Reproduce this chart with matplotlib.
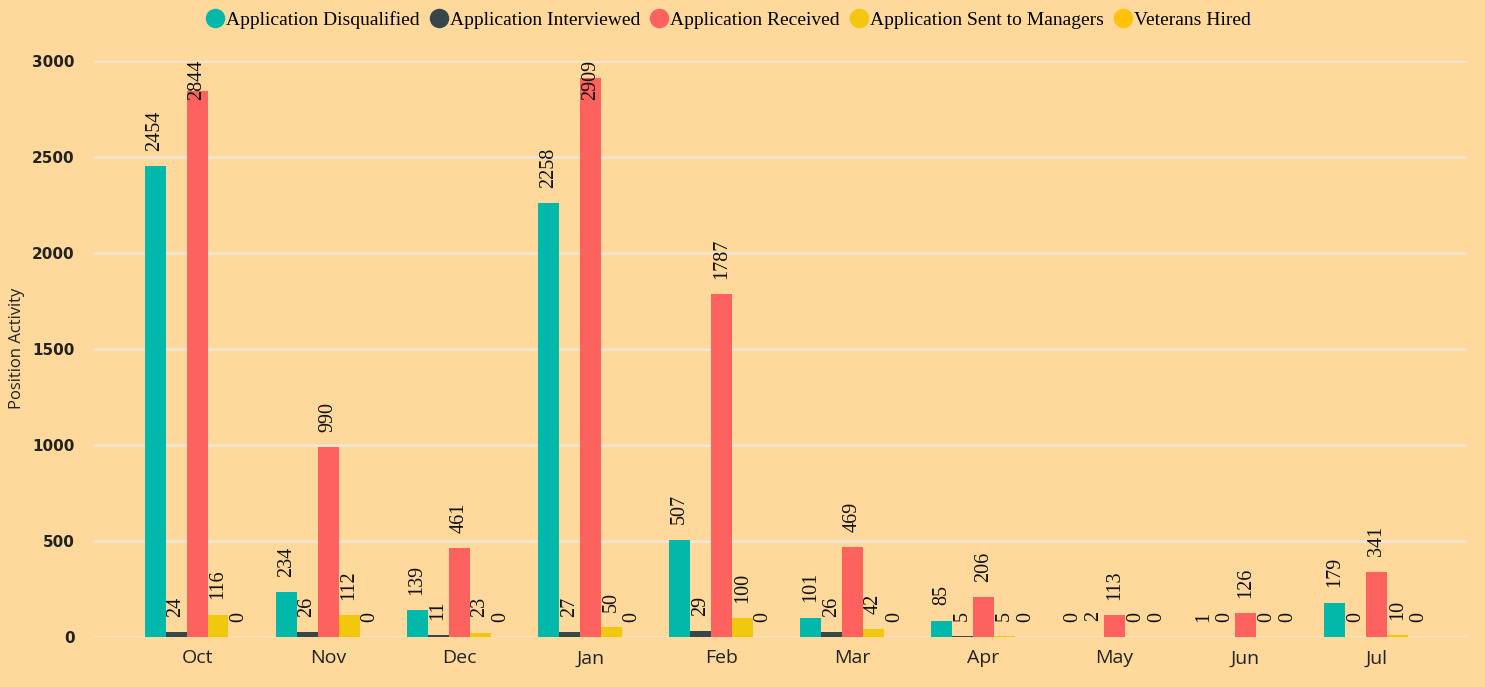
import matplotlib.pyplot as plt
from matplotlib.lines import Line2D
import numpy as np

months = ["Oct", "Nov", "Dec", "Jan", "Feb", "Mar", "Apr", "May", "Jun", "Jul"]
disqualified = [2454, 234, 139, 2258, 507, 101, 85, 0, 1, 179]
interviewed = [24, 26, 11, 27, 29, 26, 5, 2, 0, 0]
received = [2844, 990, 461, 2909, 1787, 469, 206, 113, 126, 341]
sent_to_managers = [116, 112, 23, 50, 100, 42, 5, 0, 0, 10]
veterans_hired = [0, 0, 0, 0, 0, 0, 0, 0, 0, 0]

series_names = ["Application Disqualified", "Application Interviewed",
                "Application Received", "Application Sent to Managers",
                "Veterans Hired"]
series_values = [disqualified, interviewed, received, sent_to_managers, veterans_hired]
colors = ["#01B8AA", "#374649", "#FD625E", "#F2C80F", "#FEC20A"]
y_ticks = [0, 500, 1000, 1500, 2000, 2500, 3000]

bg = "#FED99B"
fig = plt.figure(figsize=(14.85, 6.87), dpi=100, facecolor=bg)
ax = fig.add_axes([0.0633, 0.0728, 0.9246, 0.8384], facecolor=bg)

y_max = 3000
ax.set_xlim(-0.786, 9.69)
ax.set_ylim(0, y_max)

# data units per pixel on the value axis
axes_px = ax.get_position().height * fig.get_figheight() * fig.dpi
per_px = y_max / axes_px
label_pt = 14.5
gap_pt = 11

x = np.arange(len(months))
w = 0.16
for i, (vals, col) in enumerate(zip(series_values, colors)):
    pos = x + (i - 2) * w
    ax.bar(pos, vals, width=w, color=col, zorder=3)
    for px, v in zip(pos, vals):
        text = str(v)
        # rotated label length plus its gap, in data units
        need = (gap_pt + len(text) * 0.5 * label_pt) * fig.dpi / 72 * per_px
        if v + need > y_max + 2 * per_px:
            # keep the label inside the plot area, laid over the bar top
            ax.annotate(text, (px, y_max), xytext=(0, 1), textcoords="offset points",
                        rotation=90, ha="center", va="top",
                        fontsize=label_pt, family="Liberation Serif",
                        color="#111111", zorder=4, annotation_clip=False)
        else:
            ax.annotate(text, (px, v), xytext=(0, gap_pt), textcoords="offset points",
                        rotation=90, ha="center", va="bottom",
                        fontsize=label_pt, family="Liberation Serif",
                        color="#111111", zorder=4)

ax.set_yticks(y_ticks)
ax.set_yticklabels([str(t) for t in y_ticks], fontsize=11, fontweight="bold",
                   family="DejaVu Sans", color="#222222")
ax.set_xticks(x)
ax.set_xticklabels(months, fontsize=14, family="Open Sans", color="#222222")
ax.tick_params(axis="both", length=0)
ax.tick_params(axis="y", pad=14)
ax.tick_params(axis="x", pad=9)
ax.grid(axis="y", color="#EDE6DA", linewidth=1.8, zorder=0)
for s in ax.spines.values():
    s.set_visible(False)
fig.text(17 / 1485, 1 - 348 / 687, "Position Activity", rotation=90,
         ha="center", va="center", fontsize=12, family="Open Sans",
         color="#222222")

handles = [Line2D([0], [0], marker="o", linestyle="", markersize=13,
                  markerfacecolor=c, markeredgecolor=c) for c in colors]
fig.legend(handles, series_names, loc="center", bbox_to_anchor=(0.49, 1 - 20 / 687),
           ncol=5, frameon=False, handletextpad=0.0, handlelength=1.1,
           columnspacing=0.45, borderpad=0.0,
           prop={"family": "Liberation Serif", "size": 14})

fig.savefig("out.png", dpi=100, facecolor=bg)
